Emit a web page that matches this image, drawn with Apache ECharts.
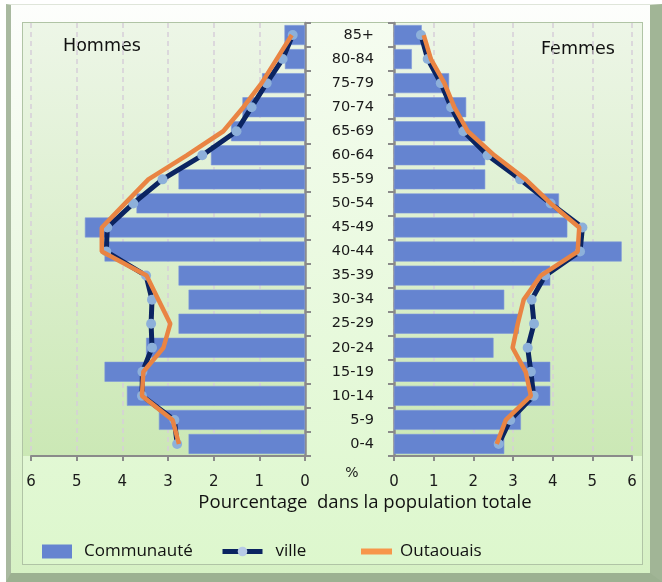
<!DOCTYPE html>
<html>
<head>
<meta charset="utf-8">
<script src="https://cdn.jsdelivr.net/npm/echarts@6/dist/echarts.min.js"></script>
<style>
  html, body { margin: 0; padding: 0; background: #ffffff; }
  .frame { position: absolute; left: 6px; top: 4px; width: 656px; height: 578px; box-sizing: border-box;
    background: linear-gradient(#fdfefc, #d6f1c4);
    border-top: 1px solid #dfe5da; border-left: 5px solid #a9b9a0;
    border-right: 12px solid #a1b596; border-bottom: 9px solid #9cb191; }
  .inner { position: absolute; left: 22px; top: 22px; width: 621px; height: 543px; box-sizing: border-box;
    border: 1px solid #b0c4a5; background: linear-gradient(#f5fcf0, #ddf7cd); }
  .plot { position: absolute; top: 23px; height: 433px; background: linear-gradient(#edf6e7, #cbe8b5); }
  #chart { position: absolute; left: 0; top: 0; width: 662px; height: 582px; }
</style>
</head>
<body>
<div class="frame"></div>
<div class="inner"></div>
<div class="plot" style="left:23px;width:282px"></div>
<div class="plot" style="left:394px;width:248px"></div>
<div id="chart"></div>
<script>
// age groups, bottom to top
const ages = ['0-4', '5-9', '10-14', '15-19', '20-24', '25-29', '30-34', '35-39', '40-44',
  '45-49', '50-54', '55-59', '60-64', '65-69', '70-74', '75-79', '80-84', '85+'];
const xTicks = [0, 1, 2, 3, 4, 5, 6];

// Hommes
const hommesCommunaute = [2.55, 3.20, 3.90, 4.39, 3.48, 2.77, 2.55, 2.77, 4.39, 4.82, 3.69, 2.77, 2.06, 1.62, 1.37, 0.94, 0.44, 0.45];
const hommesVille = [2.80, 2.86, 3.57, 3.56, 3.35, 3.37, 3.35, 3.48, 4.35, 4.33, 3.76, 3.12, 2.25, 1.50, 1.17, 0.84, 0.49, 0.27];
const hommesOutaouais = [2.76, 2.90, 3.57, 3.54, 3.10, 2.95, 3.21, 3.47, 4.45, 4.45, 3.94, 3.43, 2.59, 1.79, 1.35, 0.95, 0.62, 0.29];

// Femmes
const femmesCommunaute = [2.78, 3.20, 3.94, 3.94, 2.51, 3.15, 2.78, 3.94, 5.74, 4.37, 4.16, 2.30, 2.30, 2.30, 1.82, 1.39, 0.45, 0.70];
const femmesVille = [2.64, 2.93, 3.52, 3.45, 3.37, 3.53, 3.47, 3.81, 4.69, 4.75, 3.95, 3.18, 2.36, 1.75, 1.44, 1.18, 0.85, 0.68];
const femmesOutaouais = [2.59, 2.82, 3.45, 3.32, 2.99, 3.12, 3.27, 3.70, 4.63, 4.67, 3.95, 3.32, 2.53, 1.86, 1.52, 1.27, 0.93, 0.75];

const blue = '#6584d0', navy = '#0b2461', dot = '#8db0da', orange = '#e98443';
const axisGray = '#8a8a8a';
const tickFont = { fontFamily: 'DejaVu Sans', fontSize: 15, color: '#1a1a1a' };
const textFont = 'Open Sans';

function xAxisFor(gridIndex, inverse) {
  return {
    type: 'value', gridIndex: gridIndex, inverse: inverse,
    min: xTicks[0], max: xTicks[xTicks.length - 1], interval: 1,
    axisLine: { show: true, lineStyle: { color: axisGray, width: 2 } },
    axisTick: { show: true, length: 5, lineStyle: { color: axisGray, width: 2 } },
    axisLabel: Object.assign({ margin: 19 }, tickFont),
    splitLine: { show: true, lineStyle: { color: '#d6ced9', type: [5, 4], width: 1.5 } }
  };
}

function yAxisFor(gridIndex, position, showLabel) {
  return {
    type: 'category', gridIndex: gridIndex, position: position, data: ages,
    axisLine: { show: true, lineStyle: { color: axisGray, width: 2.5 } },
    axisTick: { show: true, length: 6, lineStyle: { color: axisGray, width: 2 } },
    axisLabel: Object.assign({ show: showLabel, margin: 20 }, tickFont, { fontSize: 14.5 }),
    splitLine: { show: false }
  };
}

function seriesFor(idx, comm, ville, outa) {
  return [
    { name: 'Communauté', type: 'bar', xAxisIndex: idx, yAxisIndex: idx, data: comm,
      barCategoryGap: '17%', itemStyle: { color: blue, borderColor: '#7f98da', borderWidth: 0.6 }, z: 2 },
    { name: 'ville', type: 'line', xAxisIndex: idx, yAxisIndex: idx, data: ville,
      symbol: 'circle', symbolSize: 10, showSymbol: true,
      lineStyle: { color: navy, width: 5 }, itemStyle: { color: dot, borderWidth: 0 }, z: 3 },
    { name: 'Outaouais', type: 'line', xAxisIndex: idx, yAxisIndex: idx, data: outa,
      symbol: 'none', lineStyle: { color: orange, width: 4.5 }, itemStyle: { color: orange }, z: 4 }
  ];
}

const legendText = { fontFamily: textFont, fontSize: 17, color: '#111' };

const chart = echarts.init(document.getElementById('chart'), null, { renderer: 'canvas' });
chart.setOption({
  backgroundColor: 'transparent',
  animation: false,
  grid: [
    { left: 31, right: 357, top: 23, bottom: 126, containLabel: false },
    { left: 394, right: 30, top: 23, bottom: 126, containLabel: false }
  ],
  xAxis: [xAxisFor(0, true), xAxisFor(1, false)],
  yAxis: [yAxisFor(0, 'right', false), yAxisFor(1, 'left', true)],
  legend: [
    { data: ['Communauté'], left: 42, top: 543, padding: 0, icon: 'rect', itemWidth: 30, itemHeight: 14,
      itemStyle: { color: blue, borderWidth: 0 },
      textStyle: Object.assign({ padding: [0, 0, 0, 7] }, legendText) },
    { data: ['ville'], left: 220, top: 543, padding: 0, itemWidth: 40, itemHeight: 12,
      lineStyle: { width: 5, color: navy }, itemStyle: { color: '#b7cae6' },
      textStyle: Object.assign({ padding: [0, 0, 0, 8] }, legendText) },
    { data: ['Outaouais'], left: 361, top: 543, padding: 0, icon: 'rect', itemWidth: 31, itemHeight: 6,
      itemStyle: { color: '#f7964a' },
      textStyle: Object.assign({ padding: [0, 0, 0, 3] }, legendText) }
  ],
  graphic: [
    { type: 'text', left: 63, top: 37, style: { text: 'Hommes', fontFamily: 'DejaVu Sans', fontSize: 17.5, fill: '#111' } },
    { type: 'text', left: 541, top: 40, style: { text: 'Femmes', fontFamily: 'DejaVu Sans', fontSize: 17.5, fill: '#111' } },
    { type: 'text', x: 352, y: 473, style: { text: '%', fontFamily: 'DejaVu Sans', fontSize: 14, fill: '#1a1a1a', align: 'center', verticalAlign: 'middle' } },
    { type: 'text', x: 365, y: 503, style: { text: 'Pourcentage  dans la population totale', fontFamily: textFont, fontSize: 18.5, fill: '#111', align: 'center', verticalAlign: 'middle' } }
  ],
  series: seriesFor(0, hommesCommunaute, hommesVille, hommesOutaouais)
    .concat(seriesFor(1, femmesCommunaute, femmesVille, femmesOutaouais))
});

window.addEventListener('resize', function () { chart.resize(); });
</script>
</body>
</html>
